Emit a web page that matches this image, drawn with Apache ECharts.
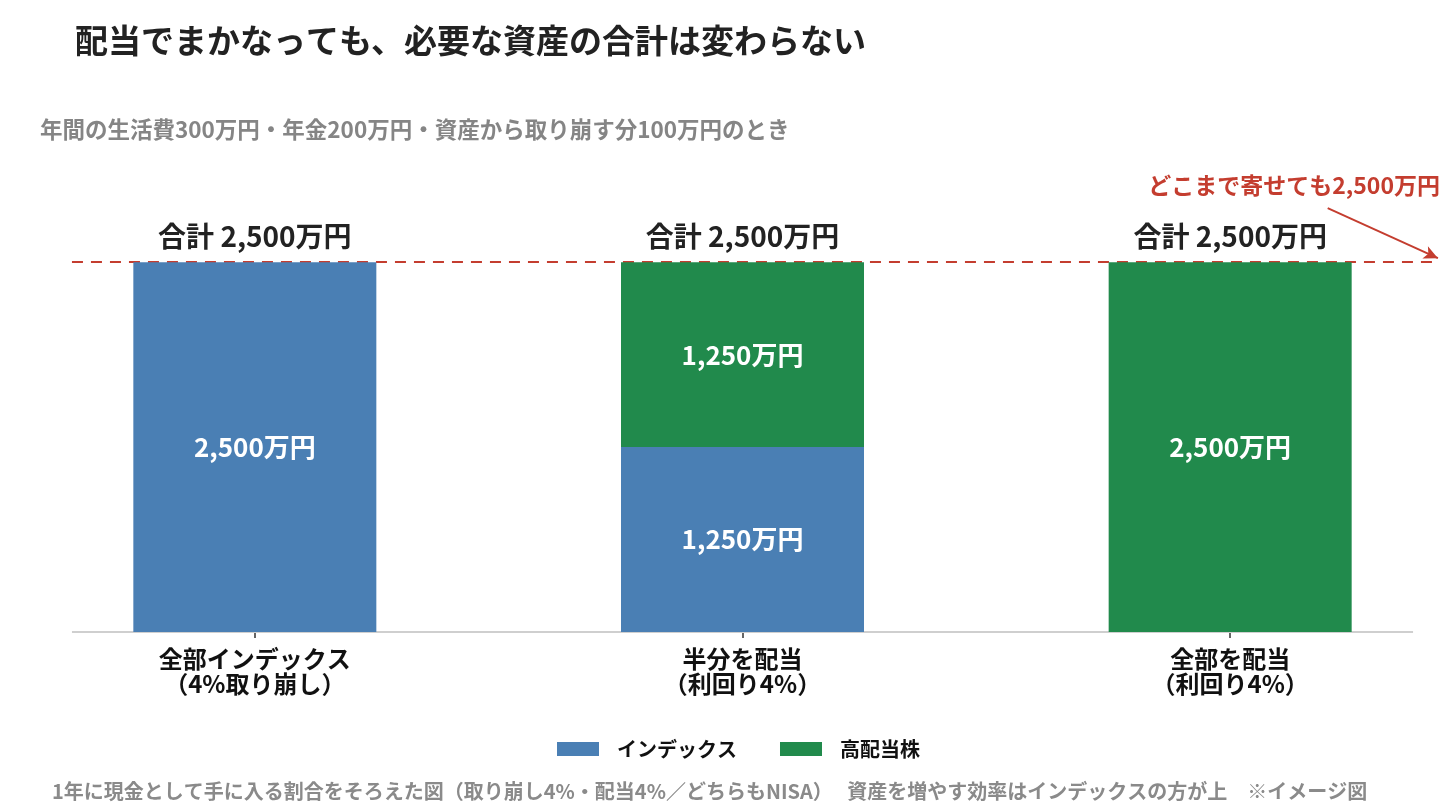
<!DOCTYPE html>
<html>
<head>
<meta charset="utf-8">
<script src="https://cdn.jsdelivr.net/npm/echarts@6/dist/echarts.min.js"></script>
<style>
html,body{margin:0;padding:0;background:#fff;}
#chart{width:1440px;height:810px;}
</style>
</head>
<body>
<div id="chart"></div>
<script>
const categories = ['全部インデックス\n（4%取り崩し）', '半分を配当\n（利回り4%）', '全部を配当\n（利回り4%）'];
const seriesNames = ['インデックス', '高配当株'];
const indexValues = [2500, 1250, null];
const dividendValues = [null, 1250, 2500];
const targetTotal = 2500;
const titleText = '配当でまかなっても、必要な資産の合計は変わらない';
const subtitleText = '年間の生活費300万円・年金200万円・資産から取り崩す分100万円のとき';
const noteText = 'どこまで寄せても2,500万円';
const footText = '1年に現金として手に入る割合をそろえた図（取り崩し4%・配当4%／どちらもNISA）　 資産を増やす効率はインデックスの方が上　※イメージ図';

const FONT = '"Noto Sans CJK JP", "Noto Sans", sans-serif';
const BLUE = '#4a7fb4';
const GREEN = '#218a4c';
const RED = '#c43d2f';

function fmt(v) {
  return String(v).replace(/\B(?=(\d{3})+(?!\d))/g, ',') + '万円';
}
const totals = categories.map((_, i) => (indexValues[i] || 0) + (dividendValues[i] || 0));
const toXY = arr => arr.map((v, i) => [i, v]);

const innerLabel = {
  show: true, position: 'inside',
  formatter: p => (p.value == null || p.value === '-') ? '' : fmt(p.value),
  fontFamily: FONT, fontSize: 26, fontWeight: 'bold', color: '#fff'
};

const chart = echarts.init(document.getElementById('chart'));
chart.setOption({
  animation: false,
  backgroundColor: '#fff',
  textStyle: { fontFamily: FONT },
  title: [
    { text: titleText, left: 75, top: 24, padding: 0,
      textStyle: { fontFamily: FONT, fontSize: 33, fontWeight: 'bold', color: '#222' } },
    { text: subtitleText, left: 40, top: 118, padding: 0,
      textStyle: { fontFamily: FONT, fontSize: 22.5, fontWeight: 'bold', color: '#858585' } },
    { text: noteText, right: 0, top: 174, padding: 0,
      textStyle: { fontFamily: FONT, fontSize: 23, fontWeight: 'bold', color: RED } },
    { text: footText, left: 52, top: 781, padding: 0,
      textStyle: { fontFamily: FONT, fontSize: 20, fontWeight: 'bold', color: '#8a8a8a' } }
  ],
  legend: {
    data: seriesNames,
    left: 552, top: 734,
    icon: 'rect', itemWidth: 42, itemHeight: 14, itemGap: 43,
    textStyle: { fontFamily: FONT, fontSize: 20, fontWeight: 'bold', color: '#111', padding: [0, 0, 0, 13] }
  },
  grid: { left: 11, right: -34, top: 203, bottom: 178, containLabel: false, outerBoundsMode: 'none' },
  xAxis: [
    {
      type: 'category', data: categories,
      axisLine: { show: false },
      splitLine: { show: false },
      axisTick: { show: true, alignWithLabel: true, length: 6, lineStyle: { color: '#333', width: 1.5 } },
      axisLabel: {
        show: true, margin: 14, interval: 0,
        fontFamily: FONT, fontSize: 24, fontWeight: 'bold', color: '#111', lineHeight: 25, align: 'center'
      }
    },
    {
      type: 'value', min: -0.5, max: 2.5, show: false, splitLine: { show: false }
    }
  ],
  yAxis: {
    type: 'value', min: 0, max: 2900, show: false,
    splitLine: { show: false }
  },
  series: [
    {
      name: seriesNames[0], type: 'bar', stack: 'total', barWidth: 243, xAxisIndex: 0,
      data: indexValues.map(v => v == null ? '-' : v), itemStyle: { color: BLUE }, z: 3,
      label: innerLabel
    },
    {
      name: seriesNames[1], type: 'bar', stack: 'total', barWidth: 243, xAxisIndex: 0,
      data: dividendValues.map(v => v == null ? '-' : v), itemStyle: { color: GREEN }, z: 3,
      label: innerLabel
    },
    {
      name: 'total', type: 'scatter', xAxisIndex: 1, data: toXY(totals), symbolSize: 0, z: 4,
      itemStyle: { opacity: 1 },
      label: { show: true, position: 'top', distance: 12, formatter: p => '合計 ' + fmt(p.value[1]),
        fontFamily: FONT, fontSize: 28, fontWeight: 'bold', color: '#222' },
      markLine: {
        z: 1, silent: true, symbol: ['none', 'none'], label: { show: false },
        data: [
          [{ xAxis: -0.375, yAxis: targetTotal, lineStyle: { color: RED, width: 2, type: [11, 8] } },
           { xAxis: 2.43, yAxis: targetTotal }],
          [{ xAxis: -0.375, yAxis: 0, lineStyle: { color: '#cfcfcf', width: 2, type: 'solid' } },
           { xAxis: 2.375, yAxis: 0 }],
          [{ xAxis: 2.2, yAxis: 2865, symbol: 'none', lineStyle: { color: RED, width: 2, type: 'solid' } },
           { xAxis: 2.426, yAxis: 2527, symbol: 'arrow', symbolSize: [10, 14] }]
        ]
      }
    }
  ]
});
</script>
</body>
</html>
